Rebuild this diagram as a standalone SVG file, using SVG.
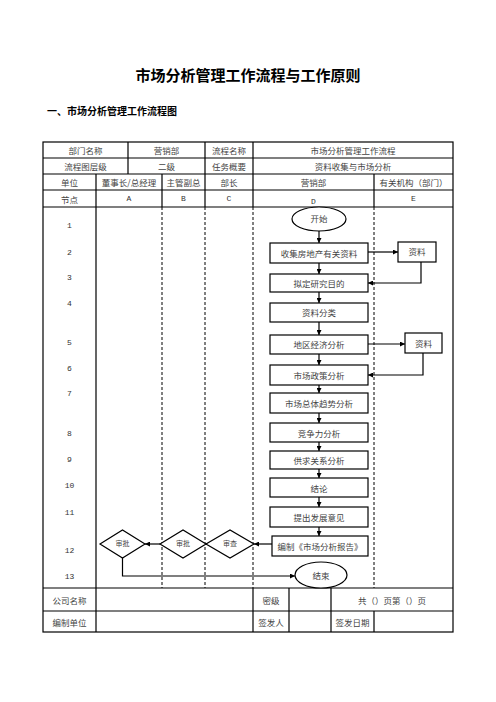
<svg xmlns="http://www.w3.org/2000/svg" width="496" height="702" viewBox="0 0 496 702">
<defs>
<marker id="ah" viewBox="0 0 10 10" refX="10" refY="5" markerWidth="5" markerHeight="5" orient="auto" markerUnits="userSpaceOnUse"><path d="M0,0 L10,5 L0,10 z" fill="#000"/></marker>
<style>
.t{font-family:"Noto Sans CJK SC","Liberation Serif",serif;font-size:8.5px;fill:#444;text-anchor:middle;dominant-baseline:central}
.s{font-size:7px}
.m{font-family:"Liberation Mono",monospace;font-size:8px;fill:#333;text-anchor:middle;dominant-baseline:central}
.g{stroke:#000;stroke-width:1.2;fill:none}
.d{stroke:#000;stroke-width:1;stroke-dasharray:3,2;fill:none}
.b{stroke:#000;stroke-width:1.2;fill:#fff}
.c{stroke:#000;stroke-width:1.2;fill:none;marker-end:url(#ah)}
</style>
</defs>
<rect width="496" height="702" fill="#fff"/>
<text x="248" y="74" font-family="Noto Sans CJK SC,sans-serif" font-size="15" font-weight="bold" text-anchor="middle" dominant-baseline="central" fill="#000">市场分析管理工作流程与工作原则</text>
<text x="47" y="110" font-family="Noto Sans CJK SC,sans-serif" font-size="10" font-weight="bold" dominant-baseline="central" fill="#000">一、市场分析管理工作流程图</text>
<g id="table">
<rect x="43" y="142" width="410" height="490" class="g"/>
<path class="g" d="M43,158H453M43,174H453M43,190H453M43,207H453M43,588H453M43,611H453"/>
<path class="g" d="M128,142V174M205,142V207M253,142V207M96,174V588M162,174V207M374,174V207M96,588V632M253,588V632M289,588V632M331,588V632M374,611V632"/>
<path class="d" d="M162,207V588M205,207V588M253,207V588M374,207V588"/>
<text class="t" x="85.5" y="150">部门名称</text>
<text class="t" x="166.5" y="150">营销部</text>
<text class="t" x="229" y="150">流程名称</text>
<text class="t" x="353" y="150">市场分析管理工作流程</text>
<text class="t" x="85.5" y="166">流程图层级</text>
<text class="t" x="166.5" y="166">二级</text>
<text class="t" x="229" y="166">任务概要</text>
<text class="t" x="353" y="166">资料收集与市场分析</text>
<text class="t" x="69.5" y="182">单位</text>
<text class="t" x="129" y="182">董事长/总经理</text>
<text class="t" x="183.5" y="182">主管副总</text>
<text class="t" x="229" y="182">部长</text>
<text class="t" x="313.5" y="182">营销部</text>
<text class="t" x="413.5" y="182">有关机构（部门）</text>
<text class="t" x="69.5" y="198.5">节点</text>
<text class="m" x="129" y="198.5">A</text>
<text class="m" x="183.5" y="198.5">B</text>
<text class="m" x="229" y="198.5">C</text>
<text class="m" x="313.5" y="201.5">D</text>
<text class="m" x="413.5" y="198.5">E</text>
<text class="t" x="69.5" y="600">公司名称</text>
<text class="t" x="271" y="600">密级</text>
<text class="t" x="392" y="600">共（）页第（）页</text>
<text class="t" x="69.5" y="622">编制单位</text>
<text class="t" x="271" y="622">签发人</text>
<text class="t" x="352.5" y="622">签发日期</text>
</g>
<g id="numbers">
<text class="m" x="69.5" y="225">1</text>
<text class="m" x="69.5" y="252">2</text>
<text class="m" x="69.5" y="277">3</text>
<text class="m" x="69.5" y="303">4</text>
<text class="m" x="69.5" y="342">5</text>
<text class="m" x="69.5" y="368">6</text>
<text class="m" x="69.5" y="393">7</text>
<text class="m" x="69.5" y="433">8</text>
<text class="m" x="69.5" y="459">9</text>
<text class="m" x="69.5" y="485">10</text>
<text class="m" x="69.5" y="512">11</text>
<text class="m" x="69.5" y="550">12</text>
<text class="m" x="69.5" y="576">13</text>
</g>
<g id="connectors">
<path class="c" d="M319,231V243"/>
<path class="c" d="M368,252H398"/>
<path class="c" d="M319,263V274"/>
<path class="c" d="M421,262V283H368"/>
<path class="c" d="M319,292V303"/>
<path class="c" d="M319,322V335"/>
<path class="c" d="M368,344H405"/>
<path class="c" d="M319,354V365"/>
<path class="c" d="M423,353V375H368"/>
<path class="c" d="M319,385V393"/>
<path class="c" d="M319,413V423"/>
<path class="c" d="M319,442V451"/>
<path class="c" d="M319,469V478"/>
<path class="c" d="M319,497V507"/>
<path class="c" d="M319,527V536"/>
<path class="c" d="M272,544H254"/>
<path class="c" d="M212,544H206"/>
<path class="c" d="M160,544H145"/>
<path class="c" d="M122.5,558V576H295"/>
</g>
<g id="n-start"><ellipse cx="319" cy="219" rx="27" ry="12" class="b"/><text class="t" x="319" y="218">开始</text></g>
<g id="n-collect"><rect x="270" y="243" width="98" height="20" class="b"/><text class="t" x="319" y="253">收集房地产有关资料</text></g>
<g id="n-data1"><rect x="398" y="242" width="38" height="20" class="b"/><text class="t" x="417" y="251">资料</text></g>
<g id="n-goal"><rect x="270" y="274" width="98" height="18" class="b"/><text class="t" x="319" y="283">拟定研究目的</text></g>
<g id="n-classify"><rect x="270" y="303" width="98" height="19" class="b"/><text class="t" x="319" y="312">资料分类</text></g>
<g id="n-region"><rect x="270" y="335" width="98" height="19" class="b"/><text class="t" x="319" y="344">地区经济分析</text></g>
<g id="n-data2"><rect x="405" y="333" width="37" height="20" class="b"/><text class="t" x="423.5" y="343">资料</text></g>
<g id="n-policy"><rect x="270" y="365" width="98" height="20" class="b"/><text class="t" x="319" y="375">市场政策分析</text></g>
<g id="n-trend"><rect x="270" y="393" width="98" height="20" class="b"/><text class="t" x="319" y="403">市场总体趋势分析</text></g>
<g id="n-compete"><rect x="270" y="423" width="98" height="19" class="b"/><text class="t" x="319" y="432.5">竞争力分析</text></g>
<g id="n-supply"><rect x="270" y="451" width="98" height="18" class="b"/><text class="t" x="319" y="460">供求关系分析</text></g>
<g id="n-conclude"><rect x="270" y="478" width="98" height="19" class="b"/><text class="t" x="319" y="487.5">结论</text></g>
<g id="n-suggest"><rect x="270" y="507" width="98" height="20" class="b"/><text class="t" x="319" y="517">提出发展意见</text></g>
<g id="n-report"><rect x="272" y="536" width="96" height="20" class="b"/><text class="t" x="320" y="546">编制《市场分析报告》</text></g>
<g id="n-review-c"><polygon points="206,544 230,530 254,544 230,558" class="b"/><text class="t s" x="230" y="543">审查</text></g>
<g id="n-approve-b"><polygon points="160,544 183,530 206,544 183,558" class="b"/><text class="t s" x="183" y="543">审批</text></g>
<g id="n-approve-a"><polygon points="100,544 122.5,530 145,544 122.5,558" class="b"/><text class="t s" x="122.5" y="543">审批</text></g>
<g id="n-end"><ellipse cx="321" cy="575" rx="26" ry="13" class="b"/><text class="t" x="321" y="575">结束</text></g>
</svg>
